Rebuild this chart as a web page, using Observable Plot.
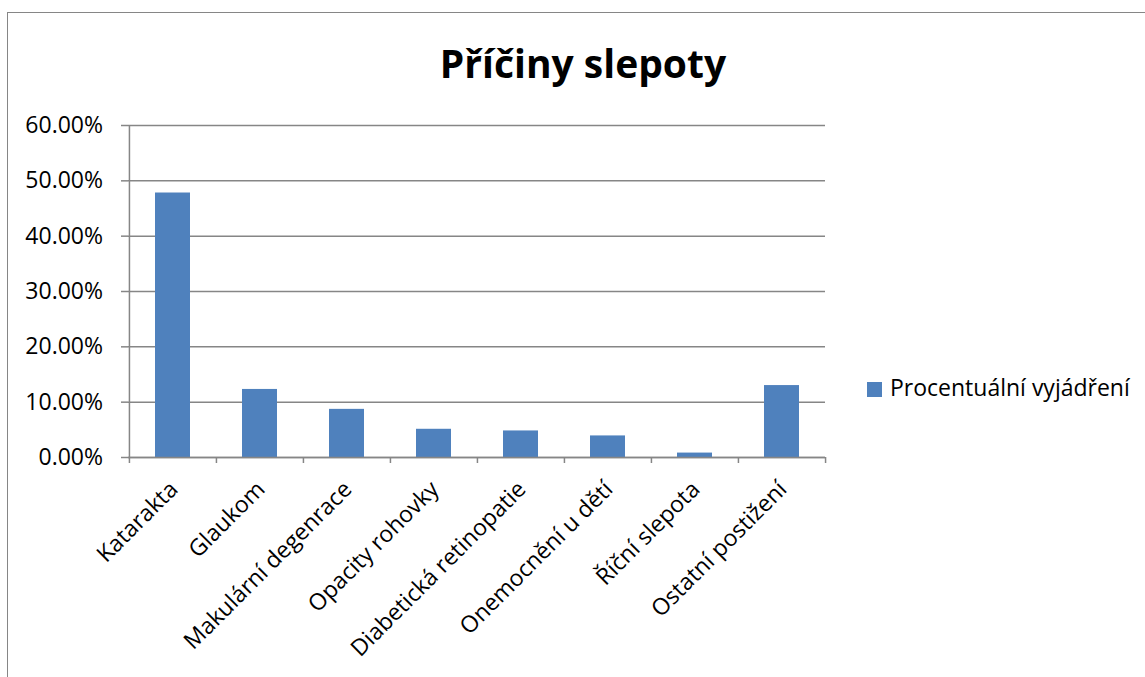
<!DOCTYPE html>
<html>
<head>
<meta charset="utf-8">
<script src="https://cdn.jsdelivr.net/npm/d3@7"></script>
<script src="https://cdn.jsdelivr.net/npm/@observablehq/plot@0.6"></script>
<style>
  html, body { margin: 0; padding: 0; background: #fff; }
  body { font-family: "Open Sans", sans-serif; color: #000; }
  #wrap { position: relative; width: 1145px; height: 677px; overflow: hidden; background: #fff; }
  #border { position: absolute; left: 7px; top: 12px; width: 2000px; height: 2000px;
            border-top: 1.5px solid #868686; border-left: 1.5px solid #868686; box-sizing: border-box; }
  #title { position: absolute; left: 0; width: 1166px; top: 43px; text-align: center;
           font-weight: 700; font-size: 39px; line-height: 39px; white-space: nowrap; }
  #legend { position: absolute; left: 867px; top: 376px; font-size: 23px; line-height: 23px; white-space: nowrap; }
  #legend .sw { display: inline-block; width: 15px; height: 15px; background: #4F81BD;
                position: absolute; left: 0; top: 6px; }
  #legend .lb { position: absolute; left: 23px; top: 0; }
  #chart { position: absolute; left: 0; top: 0; }
</style>
</head>
<body>
<div id="wrap">
  <div id="border"></div>
  <div id="chart"></div>
  <div id="title"></div>
  <div id="legend"><span class="sw"></span><span class="lb"></span></div>
</div>
<script>
const title = "Příčiny slepoty";
const seriesName = "Procentuální vyjádření";
const categories = ["Katarakta", "Glaukom", "Makulární degenrace", "Opacity rohovky",
                    "Diabetická retinopatie", "Onemocnění u dětí", "Říční slepota", "Ostatní postižení"];
const values = [0.478, 0.123, 0.087, 0.051, 0.048, 0.039, 0.008, 0.130];
const yTicks = [0, 0.1, 0.2, 0.3, 0.4, 0.5, 0.6];

document.getElementById("title").textContent = title;
document.querySelector("#legend .lb").textContent = seriesName;

const W = 1145, H = 677, mL = 128, mR = 320, mT = 125, mB = 220;
const step = (W - mL - mR) / categories.length;
const gray = "#868686";
const data = categories.map((c, i) => ({category: c, value: values[i]}));
const fmt = d => (d * 100).toFixed(2) + "%";

const chart = Plot.plot({
  width: W, height: H,
  marginLeft: mL, marginRight: mR, marginTop: mT, marginBottom: mB,
  style: {fontFamily: '"Open Sans", sans-serif', fontSize: "23px", color: "#000", background: "transparent", overflow: "visible"},
  x: {domain: categories, paddingInner: 0.6, paddingOuter: 0.3, axis: null},
  y: {domain: [0, 0.6], axis: null},
  marks: [
    Plot.gridY(yTicks, {stroke: gray, strokeOpacity: 1, strokeWidth: 1.5}),
    Plot.barY(data, {x: "category", y: "value", fill: "#4F81BD"}),
    Plot.axisY(yTicks, {tickSize: 7, stroke: gray, strokeWidth: 1.5, tickFormat: () => "", label: null}),
    Plot.axisY(yTicks, {tickSize: 0, tickPadding: 25.5, tickFormat: fmt, fontSize: 23, fill: "#000", label: null}),
    Plot.ruleY([0], {stroke: gray, strokeWidth: 1.5}),
    Plot.ruleX([categories[0]], {x: d => d, dx: -step / 2, y1: 0, y2: 0.6, stroke: gray, strokeWidth: 1.5}),
    Plot.ruleX(categories, {x: d => d, dx: -step / 2, y1: 0, y2: 0, insetBottom: -6, stroke: gray, strokeWidth: 1.5}),
    Plot.ruleX([categories[categories.length - 1]], {x: d => d, dx: step / 2, y1: 0, y2: 0, insetBottom: -6, stroke: gray, strokeWidth: 1.5}),
    Plot.text(categories, {x: d => d, y: () => 0, text: d => d, rotate: -45, textAnchor: "end",
                           dx: 1, dy: 28, fontSize: 23, fill: "#000"})
  ]
});
document.getElementById("chart").appendChild(chart);
</script>
</body>
</html>
